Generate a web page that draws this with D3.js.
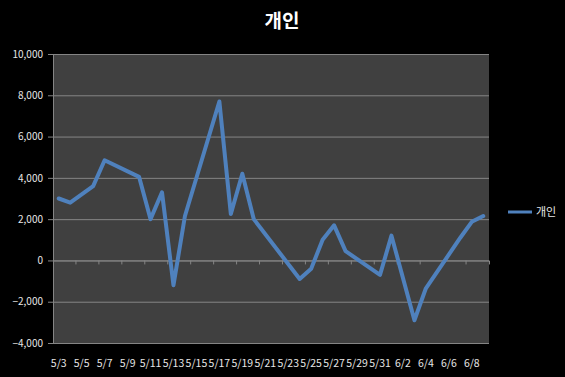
<!DOCTYPE html>
<html>
<head>
<meta charset="utf-8">
<script src="https://cdn.jsdelivr.net/npm/d3@7"></script>
<style>
  body { margin: 0; background: #000; }
  svg { display: block; }
  text { font-family: "Noto Sans CJK KR", "Noto Sans", sans-serif; }
</style>
</head>
<body>
<svg id="chart" width="565" height="377"></svg>
<script>
// every calendar day on the axis (5/3 .. 6/9)
const days = [
  "5/3", "5/4", "5/5", "5/6", "5/7", "5/8", "5/9", "5/10", "5/11", "5/12",
  "5/13", "5/14", "5/15", "5/16", "5/17", "5/18", "5/19", "5/20", "5/21", "5/22",
  "5/23", "5/24", "5/25", "5/26", "5/27", "5/28", "5/29", "5/30", "5/31", "6/1",
  "6/2", "6/3", "6/4", "6/5", "6/6", "6/7", "6/8", "6/9"
];

// trading days only, with the 개인 net values
const tradeDays = [
  "5/3", "5/4", "5/6", "5/7", "5/10", "5/11", "5/12", "5/13", "5/14",
  "5/17", "5/18", "5/19", "5/20", "5/24", "5/25", "5/26", "5/27", "5/28",
  "5/31", "6/1", "6/3", "6/4", "6/7", "6/8", "6/9"
];
const personal = [
  3000, 2800, 3600, 4850, 4050, 2000, 3300, -1200, 2150,
  7700, 2250, 4200, 2000, -900, -400, 1000, 1700, 450,
  -700, 1200, -2900, -1350, 1100, 1870, 2150
];

const yTicks = [-4000, -2000, 0, 2000, 4000, 6000, 8000, 10000];

const svg = d3.select("#chart");
const margin = { top: 54, right: 76, bottom: 34, left: 53 };
const width = 565, height = 377;
const innerWidth = width - margin.left - margin.right;
const innerHeight = height - margin.top - margin.bottom;

const x = d3.scaleBand().domain(days).range([0, innerWidth]).padding(0);
const y = d3.scaleLinear().domain([-4000, 10000]).range([innerHeight, 0]);

// title
svg.append("text")
  .attr("x", 282)
  .attr("y", 28)
  .attr("text-anchor", "middle")
  .attr("fill", "#fff")
  .style("font-size", "19px")
  .style("font-weight", "bold")
  .text("개인");

const g = svg.append("g")
  .attr("transform", `translate(${margin.left},${margin.top})`);

// plot area
g.append("rect")
  .attr("width", innerWidth)
  .attr("height", innerHeight)
  .attr("fill", "#404040");

// grid
g.append("g")
  .call(d3.axisLeft(y).tickValues(yTicks).tickSize(-innerWidth).tickFormat(""))
  .call(s => s.select(".domain").remove())
  .call(s => s.selectAll("text").remove())
  .selectAll("line")
  .attr("stroke", "#858585");

// y axis
const yAxis = g.append("g")
  .call(d3.axisLeft(y).tickValues(yTicks).tickSize(5).tickPadding(5).tickFormat(d3.format(",")));
yAxis.select(".domain").attr("stroke", "#858585");
yAxis.selectAll(".tick line").attr("stroke", "#858585");
yAxis.selectAll("text")
  .attr("fill", "#e6e6e6")
  .style("font-size", "10px");

// x axis on the zero line (ticks only, every 2 days)
const boundaryTicks = days.filter((d, i) => i % 2 === 0 && i > 0);
g.append("g")
  .attr("transform", `translate(0,${y(0)})`)
  .call(d3.axisBottom(x).tickValues(boundaryTicks).tickSize(4).tickFormat(""))
  .call(s => s.select(".domain").attr("stroke", "#858585"))
  .call(s => s.selectAll("text").remove())
  .selectAll(".tick")
  .attr("transform", d => `translate(${x(d)},0)`)
  .select("line")
  .attr("stroke", "#858585");

// x labels under the plot
g.append("g")
  .selectAll("text")
  .data(days.filter((d, i) => i % 2 === 0))
  .join("text")
  .attr("x", d => x(d) + x.bandwidth() / 2)
  .attr("y", innerHeight + 24)
  .attr("text-anchor", "middle")
  .attr("fill", "#e6e6e6")
  .style("font-size", "10.5px")
  .text(d => d);

// line
const line = d3.line()
  .x((d, i) => x(tradeDays[i]) + x.bandwidth() / 2)
  .y(d => y(d));

g.append("path")
  .datum(personal)
  .attr("fill", "none")
  .attr("stroke", "#4f81bd")
  .attr("stroke-width", 4)
  .attr("stroke-linejoin", "round")
  .attr("stroke-linecap", "round")
  .attr("d", line);

// legend
const legend = svg.append("g").attr("transform", "translate(508,212)");
legend.append("line")
  .attr("x1", 0).attr("x2", 24)
  .attr("stroke", "#4f81bd")
  .attr("stroke-width", 3);
legend.append("text")
  .attr("x", 28)
  .attr("y", 4)
  .attr("fill", "#e6e6e6")
  .style("font-size", "11px")
  .text("개인");
</script>
</body>
</html>
